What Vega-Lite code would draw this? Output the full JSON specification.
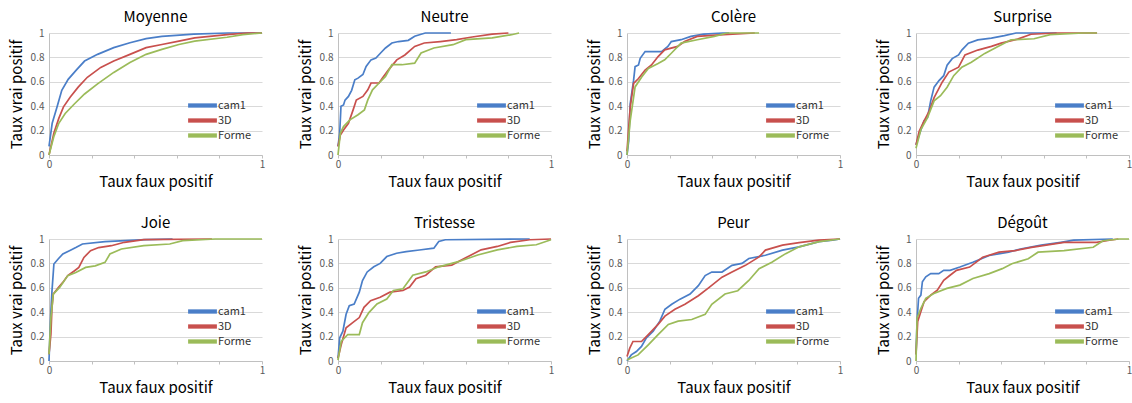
{
"$schema": "https://vega.github.io/schema/vega-lite/v6.json",
"padding": {"left": 9, "top": 10, "right": 0, "bottom": 0},
"background": "white",
"datasets": {
"Moyenne": [
{"model":"cam1","fpr":0,"tpr":0.07},{"model":"cam1","fpr":0.015,"tpr":0.26},{"model":"cam1","fpr":0.038,"tpr":0.395},{"model":"cam1","fpr":0.06,"tpr":0.53},{"model":"cam1","fpr":0.09,"tpr":0.62},{"model":"cam1","fpr":0.13,"tpr":0.7},{"model":"cam1","fpr":0.167,"tpr":0.77},{"model":"cam1","fpr":0.228,"tpr":0.825},{"model":"cam1","fpr":0.304,"tpr":0.88},{"model":"cam1","fpr":0.38,"tpr":0.92},{"model":"cam1","fpr":0.456,"tpr":0.954},{"model":"cam1","fpr":0.53,"tpr":0.973},{"model":"cam1","fpr":0.68,"tpr":0.99},{"model":"cam1","fpr":0.84,"tpr":1},{"model":"cam1","fpr":1,"tpr":1},
{"model":"3D","fpr":0,"tpr":0},{"model":"3D","fpr":0.023,"tpr":0.18},{"model":"3D","fpr":0.046,"tpr":0.3},{"model":"3D","fpr":0.068,"tpr":0.395},{"model":"3D","fpr":0.1,"tpr":0.475},{"model":"3D","fpr":0.137,"tpr":0.556},{"model":"3D","fpr":0.18,"tpr":0.637},{"model":"3D","fpr":0.243,"tpr":0.718},{"model":"3D","fpr":0.304,"tpr":0.77},{"model":"3D","fpr":0.38,"tpr":0.825},{"model":"3D","fpr":0.456,"tpr":0.88},{"model":"3D","fpr":0.53,"tpr":0.906},{"model":"3D","fpr":0.61,"tpr":0.933},{"model":"3D","fpr":0.684,"tpr":0.96},{"model":"3D","fpr":0.836,"tpr":0.987},{"model":"3D","fpr":0.93,"tpr":1},{"model":"3D","fpr":1,"tpr":1},
{"model":"Forme","fpr":0,"tpr":0},{"model":"Forme","fpr":0.023,"tpr":0.153},{"model":"Forme","fpr":0.046,"tpr":0.26},{"model":"Forme","fpr":0.076,"tpr":0.34},{"model":"Forme","fpr":0.12,"tpr":0.42},{"model":"Forme","fpr":0.167,"tpr":0.5},{"model":"Forme","fpr":0.228,"tpr":0.583},{"model":"Forme","fpr":0.304,"tpr":0.677},{"model":"Forme","fpr":0.38,"tpr":0.758},{"model":"Forme","fpr":0.456,"tpr":0.825},{"model":"Forme","fpr":0.53,"tpr":0.866},{"model":"Forme","fpr":0.61,"tpr":0.906},{"model":"Forme","fpr":0.684,"tpr":0.933},{"model":"Forme","fpr":0.836,"tpr":0.965},{"model":"Forme","fpr":0.91,"tpr":0.987},{"model":"Forme","fpr":1,"tpr":1}
],
"Neutre": [
{"model":"cam1","fpr":0,"tpr":0.07},{"model":"cam1","fpr":0.008,"tpr":0.18},{"model":"cam1","fpr":0.014,"tpr":0.4},{"model":"cam1","fpr":0.026,"tpr":0.41},{"model":"cam1","fpr":0.033,"tpr":0.45},{"model":"cam1","fpr":0.049,"tpr":0.48},{"model":"cam1","fpr":0.064,"tpr":0.53},{"model":"cam1","fpr":0.079,"tpr":0.616},{"model":"cam1","fpr":0.094,"tpr":0.63},{"model":"cam1","fpr":0.117,"tpr":0.66},{"model":"cam1","fpr":0.132,"tpr":0.726},{"model":"cam1","fpr":0.155,"tpr":0.78},{"model":"cam1","fpr":0.178,"tpr":0.795},{"model":"cam1","fpr":0.2,"tpr":0.836},{"model":"cam1","fpr":0.223,"tpr":0.877},{"model":"cam1","fpr":0.253,"tpr":0.918},{"model":"cam1","fpr":0.284,"tpr":0.93},{"model":"cam1","fpr":0.33,"tpr":0.94},{"model":"cam1","fpr":0.36,"tpr":0.973},{"model":"cam1","fpr":0.39,"tpr":0.99},{"model":"cam1","fpr":0.41,"tpr":1},{"model":"cam1","fpr":0.53,"tpr":1},
{"model":"3D","fpr":0,"tpr":0.07},{"model":"3D","fpr":0.011,"tpr":0.164},{"model":"3D","fpr":0.026,"tpr":0.205},{"model":"3D","fpr":0.049,"tpr":0.26},{"model":"3D","fpr":0.071,"tpr":0.37},{"model":"3D","fpr":0.086,"tpr":0.45},{"model":"3D","fpr":0.117,"tpr":0.48},{"model":"3D","fpr":0.14,"tpr":0.534},{"model":"3D","fpr":0.155,"tpr":0.59},{"model":"3D","fpr":0.193,"tpr":0.59},{"model":"3D","fpr":0.208,"tpr":0.63},{"model":"3D","fpr":0.238,"tpr":0.7},{"model":"3D","fpr":0.276,"tpr":0.78},{"model":"3D","fpr":0.314,"tpr":0.82},{"model":"3D","fpr":0.36,"tpr":0.89},{"model":"3D","fpr":0.405,"tpr":0.918},{"model":"3D","fpr":0.48,"tpr":0.93},{"model":"3D","fpr":0.557,"tpr":0.945},{"model":"3D","fpr":0.63,"tpr":0.967},{"model":"3D","fpr":0.724,"tpr":0.99},{"model":"3D","fpr":0.8,"tpr":1},
{"model":"Forme","fpr":0,"tpr":0},{"model":"Forme","fpr":0.011,"tpr":0.178},{"model":"Forme","fpr":0.026,"tpr":0.233},{"model":"Forme","fpr":0.056,"tpr":0.288},{"model":"Forme","fpr":0.094,"tpr":0.33},{"model":"Forme","fpr":0.124,"tpr":0.37},{"model":"Forme","fpr":0.14,"tpr":0.452},{"model":"Forme","fpr":0.162,"tpr":0.534},{"model":"Forme","fpr":0.193,"tpr":0.59},{"model":"Forme","fpr":0.223,"tpr":0.644},{"model":"Forme","fpr":0.253,"tpr":0.74},{"model":"Forme","fpr":0.3,"tpr":0.74},{"model":"Forme","fpr":0.36,"tpr":0.753},{"model":"Forme","fpr":0.39,"tpr":0.836},{"model":"Forme","fpr":0.45,"tpr":0.877},{"model":"Forme","fpr":0.54,"tpr":0.904},{"model":"Forme","fpr":0.6,"tpr":0.945},{"model":"Forme","fpr":0.724,"tpr":0.96},{"model":"Forme","fpr":0.815,"tpr":0.986},{"model":"Forme","fpr":0.85,"tpr":1}
],
"Colère": [
{"model":"cam1","fpr":0,"tpr":0},{"model":"cam1","fpr":0.008,"tpr":0.116},{"model":"cam1","fpr":0.015,"tpr":0.42},{"model":"cam1","fpr":0.031,"tpr":0.613},{"model":"cam1","fpr":0.038,"tpr":0.724},{"model":"cam1","fpr":0.054,"tpr":0.738},{"model":"cam1","fpr":0.062,"tpr":0.793},{"model":"cam1","fpr":0.085,"tpr":0.848},{"model":"cam1","fpr":0.162,"tpr":0.848},{"model":"cam1","fpr":0.192,"tpr":0.89},{"model":"cam1","fpr":0.208,"tpr":0.93},{"model":"cam1","fpr":0.254,"tpr":0.945},{"model":"cam1","fpr":0.3,"tpr":0.972},{"model":"cam1","fpr":0.36,"tpr":0.99},{"model":"cam1","fpr":0.45,"tpr":1},{"model":"cam1","fpr":0.48,"tpr":1},
{"model":"3D","fpr":0,"tpr":0.03},{"model":"3D","fpr":0.015,"tpr":0.39},{"model":"3D","fpr":0.031,"tpr":0.586},{"model":"3D","fpr":0.054,"tpr":0.627},{"model":"3D","fpr":0.085,"tpr":0.696},{"model":"3D","fpr":0.115,"tpr":0.738},{"model":"3D","fpr":0.146,"tpr":0.807},{"model":"3D","fpr":0.177,"tpr":0.862},{"model":"3D","fpr":0.238,"tpr":0.89},{"model":"3D","fpr":0.27,"tpr":0.93},{"model":"3D","fpr":0.33,"tpr":0.972},{"model":"3D","fpr":0.454,"tpr":0.986},{"model":"3D","fpr":0.6,"tpr":1},
{"model":"Forme","fpr":0,"tpr":0},{"model":"Forme","fpr":0.015,"tpr":0.28},{"model":"Forme","fpr":0.038,"tpr":0.558},{"model":"Forme","fpr":0.069,"tpr":0.64},{"model":"Forme","fpr":0.1,"tpr":0.71},{"model":"Forme","fpr":0.146,"tpr":0.75},{"model":"Forme","fpr":0.177,"tpr":0.78},{"model":"Forme","fpr":0.208,"tpr":0.834},{"model":"Forme","fpr":0.254,"tpr":0.917},{"model":"Forme","fpr":0.33,"tpr":0.945},{"model":"Forme","fpr":0.41,"tpr":0.972},{"model":"Forme","fpr":0.47,"tpr":1},{"model":"Forme","fpr":0.62,"tpr":1}
],
"Surprise": [
{"model":"cam1","fpr":0,"tpr":0.083},{"model":"cam1","fpr":0.015,"tpr":0.167},{"model":"cam1","fpr":0.038,"tpr":0.28},{"model":"cam1","fpr":0.054,"tpr":0.306},{"model":"cam1","fpr":0.069,"tpr":0.444},{"model":"cam1","fpr":0.085,"tpr":0.556},{"model":"cam1","fpr":0.108,"tpr":0.61},{"model":"cam1","fpr":0.13,"tpr":0.65},{"model":"cam1","fpr":0.146,"tpr":0.736},{"model":"cam1","fpr":0.17,"tpr":0.79},{"model":"cam1","fpr":0.2,"tpr":0.82},{"model":"cam1","fpr":0.215,"tpr":0.86},{"model":"cam1","fpr":0.246,"tpr":0.917},{"model":"cam1","fpr":0.29,"tpr":0.944},{"model":"cam1","fpr":0.354,"tpr":0.958},{"model":"cam1","fpr":0.415,"tpr":0.978},{"model":"cam1","fpr":0.47,"tpr":1},{"model":"cam1","fpr":0.66,"tpr":1},
{"model":"3D","fpr":0,"tpr":0.083},{"model":"3D","fpr":0.015,"tpr":0.194},{"model":"3D","fpr":0.038,"tpr":0.28},{"model":"3D","fpr":0.062,"tpr":0.36},{"model":"3D","fpr":0.085,"tpr":0.47},{"model":"3D","fpr":0.123,"tpr":0.597},{"model":"3D","fpr":0.154,"tpr":0.68},{"model":"3D","fpr":0.2,"tpr":0.72},{"model":"3D","fpr":0.23,"tpr":0.82},{"model":"3D","fpr":0.29,"tpr":0.86},{"model":"3D","fpr":0.354,"tpr":0.89},{"model":"3D","fpr":0.4,"tpr":0.917},{"model":"3D","fpr":0.477,"tpr":0.95},{"model":"3D","fpr":0.54,"tpr":0.99},{"model":"3D","fpr":0.66,"tpr":1},{"model":"3D","fpr":0.85,"tpr":1},
{"model":"Forme","fpr":0,"tpr":0.056},{"model":"Forme","fpr":0.023,"tpr":0.208},{"model":"Forme","fpr":0.054,"tpr":0.306},{"model":"Forme","fpr":0.085,"tpr":0.444},{"model":"Forme","fpr":0.115,"tpr":0.486},{"model":"Forme","fpr":0.146,"tpr":0.556},{"model":"Forme","fpr":0.177,"tpr":0.65},{"model":"Forme","fpr":0.215,"tpr":0.72},{"model":"Forme","fpr":0.26,"tpr":0.76},{"model":"Forme","fpr":0.323,"tpr":0.833},{"model":"Forme","fpr":0.385,"tpr":0.89},{"model":"Forme","fpr":0.446,"tpr":0.944},{"model":"Forme","fpr":0.554,"tpr":0.953},{"model":"Forme","fpr":0.63,"tpr":0.986},{"model":"Forme","fpr":0.785,"tpr":1},{"model":"Forme","fpr":0.85,"tpr":1}
],
"Joie": [
{"model":"cam1","fpr":0,"tpr":0},{"model":"cam1","fpr":0.005,"tpr":0.247},{"model":"cam1","fpr":0.009,"tpr":0.41},{"model":"cam1","fpr":0.014,"tpr":0.575},{"model":"cam1","fpr":0.023,"tpr":0.795},{"model":"cam1","fpr":0.043,"tpr":0.836},{"model":"cam1","fpr":0.065,"tpr":0.877},{"model":"cam1","fpr":0.096,"tpr":0.904},{"model":"cam1","fpr":0.126,"tpr":0.93},{"model":"cam1","fpr":0.157,"tpr":0.959},{"model":"cam1","fpr":0.263,"tpr":0.978},{"model":"cam1","fpr":0.453,"tpr":0.995},{"model":"cam1","fpr":0.58,"tpr":1},
{"model":"3D","fpr":0,"tpr":0.055},{"model":"3D","fpr":0.009,"tpr":0.22},{"model":"3D","fpr":0.014,"tpr":0.438},{"model":"3D","fpr":0.02,"tpr":0.548},{"model":"3D","fpr":0.043,"tpr":0.6},{"model":"3D","fpr":0.065,"tpr":0.644},{"model":"3D","fpr":0.088,"tpr":0.7},{"model":"3D","fpr":0.12,"tpr":0.74},{"model":"3D","fpr":0.14,"tpr":0.767},{"model":"3D","fpr":0.164,"tpr":0.849},{"model":"3D","fpr":0.195,"tpr":0.904},{"model":"3D","fpr":0.233,"tpr":0.93},{"model":"3D","fpr":0.293,"tpr":0.945},{"model":"3D","fpr":0.354,"tpr":0.973},{"model":"3D","fpr":0.445,"tpr":0.995},{"model":"3D","fpr":0.765,"tpr":1},
{"model":"Forme","fpr":0,"tpr":0.055},{"model":"Forme","fpr":0.009,"tpr":0.356},{"model":"Forme","fpr":0.02,"tpr":0.548},{"model":"Forme","fpr":0.05,"tpr":0.603},{"model":"Forme","fpr":0.088,"tpr":0.7},{"model":"Forme","fpr":0.126,"tpr":0.726},{"model":"Forme","fpr":0.172,"tpr":0.767},{"model":"Forme","fpr":0.217,"tpr":0.78},{"model":"Forme","fpr":0.263,"tpr":0.808},{"model":"Forme","fpr":0.286,"tpr":0.877},{"model":"Forme","fpr":0.34,"tpr":0.918},{"model":"Forme","fpr":0.445,"tpr":0.945},{"model":"Forme","fpr":0.567,"tpr":0.959},{"model":"Forme","fpr":0.628,"tpr":0.986},{"model":"Forme","fpr":0.78,"tpr":1},{"model":"Forme","fpr":1,"tpr":1}
],
"Tristesse": [
{"model":"cam1","fpr":0,"tpr":0.022},{"model":"cam1","fpr":0.008,"tpr":0.19},{"model":"cam1","fpr":0.023,"tpr":0.244},{"model":"cam1","fpr":0.038,"tpr":0.383},{"model":"cam1","fpr":0.053,"tpr":0.453},{"model":"cam1","fpr":0.076,"tpr":0.467},{"model":"cam1","fpr":0.1,"tpr":0.564},{"model":"cam1","fpr":0.115,"tpr":0.66},{"model":"cam1","fpr":0.137,"tpr":0.73},{"model":"cam1","fpr":0.168,"tpr":0.772},{"model":"cam1","fpr":0.198,"tpr":0.8},{"model":"cam1","fpr":0.229,"tpr":0.856},{"model":"cam1","fpr":0.275,"tpr":0.883},{"model":"cam1","fpr":0.32,"tpr":0.897},{"model":"cam1","fpr":0.382,"tpr":0.91},{"model":"cam1","fpr":0.45,"tpr":0.925},{"model":"cam1","fpr":0.473,"tpr":0.98},{"model":"cam1","fpr":0.504,"tpr":0.994},{"model":"cam1","fpr":0.9,"tpr":1},
{"model":"3D","fpr":0,"tpr":0.022},{"model":"3D","fpr":0.015,"tpr":0.133},{"model":"3D","fpr":0.038,"tpr":0.272},{"model":"3D","fpr":0.069,"tpr":0.314},{"model":"3D","fpr":0.1,"tpr":0.356},{"model":"3D","fpr":0.122,"tpr":0.44},{"model":"3D","fpr":0.153,"tpr":0.494},{"model":"3D","fpr":0.198,"tpr":0.522},{"model":"3D","fpr":0.244,"tpr":0.564},{"model":"3D","fpr":0.305,"tpr":0.578},{"model":"3D","fpr":0.336,"tpr":0.606},{"model":"3D","fpr":0.366,"tpr":0.675},{"model":"3D","fpr":0.412,"tpr":0.703},{"model":"3D","fpr":0.458,"tpr":0.772},{"model":"3D","fpr":0.534,"tpr":0.786},{"model":"3D","fpr":0.595,"tpr":0.842},{"model":"3D","fpr":0.672,"tpr":0.911},{"model":"3D","fpr":0.748,"tpr":0.939},{"model":"3D","fpr":0.81,"tpr":0.972},{"model":"3D","fpr":0.9,"tpr":0.994},{"model":"3D","fpr":1,"tpr":1},
{"model":"Forme","fpr":0,"tpr":0.008},{"model":"Forme","fpr":0.015,"tpr":0.16},{"model":"Forme","fpr":0.046,"tpr":0.217},{"model":"Forme","fpr":0.1,"tpr":0.217},{"model":"Forme","fpr":0.115,"tpr":0.314},{"model":"Forme","fpr":0.145,"tpr":0.397},{"model":"Forme","fpr":0.183,"tpr":0.467},{"model":"Forme","fpr":0.229,"tpr":0.508},{"model":"Forme","fpr":0.26,"tpr":0.578},{"model":"Forme","fpr":0.305,"tpr":0.592},{"model":"Forme","fpr":0.351,"tpr":0.703},{"model":"Forme","fpr":0.412,"tpr":0.73},{"model":"Forme","fpr":0.473,"tpr":0.772},{"model":"Forme","fpr":0.565,"tpr":0.814},{"model":"Forme","fpr":0.656,"tpr":0.869},{"model":"Forme","fpr":0.748,"tpr":0.911},{"model":"Forme","fpr":0.84,"tpr":0.939},{"model":"Forme","fpr":0.931,"tpr":0.953},{"model":"Forme","fpr":1,"tpr":0.994}
],
"Peur": [
{"model":"cam1","fpr":0,"tpr":0},{"model":"cam1","fpr":0.02,"tpr":0.05},{"model":"cam1","fpr":0.044,"tpr":0.078},{"model":"cam1","fpr":0.068,"tpr":0.12},{"model":"cam1","fpr":0.091,"tpr":0.19},{"model":"cam1","fpr":0.123,"tpr":0.244},{"model":"cam1","fpr":0.154,"tpr":0.327},{"model":"cam1","fpr":0.178,"tpr":0.424},{"model":"cam1","fpr":0.21,"tpr":0.465},{"model":"cam1","fpr":0.249,"tpr":0.507},{"model":"cam1","fpr":0.296,"tpr":0.549},{"model":"cam1","fpr":0.335,"tpr":0.618},{"model":"cam1","fpr":0.367,"tpr":0.7},{"model":"cam1","fpr":0.398,"tpr":0.729},{"model":"cam1","fpr":0.446,"tpr":0.729},{"model":"cam1","fpr":0.493,"tpr":0.784},{"model":"cam1","fpr":0.54,"tpr":0.8},{"model":"cam1","fpr":0.572,"tpr":0.84},{"model":"cam1","fpr":0.65,"tpr":0.867},{"model":"cam1","fpr":0.73,"tpr":0.909},{"model":"cam1","fpr":0.808,"tpr":0.936},{"model":"cam1","fpr":0.902,"tpr":0.978},{"model":"cam1","fpr":0.965,"tpr":0.99},{"model":"cam1","fpr":1,"tpr":1},
{"model":"3D","fpr":0,"tpr":0.036},{"model":"3D","fpr":0.013,"tpr":0.105},{"model":"3D","fpr":0.028,"tpr":0.16},{"model":"3D","fpr":0.068,"tpr":0.16},{"model":"3D","fpr":0.1,"tpr":0.216},{"model":"3D","fpr":0.146,"tpr":0.3},{"model":"3D","fpr":0.178,"tpr":0.368},{"model":"3D","fpr":0.225,"tpr":0.424},{"model":"3D","fpr":0.272,"tpr":0.465},{"model":"3D","fpr":0.335,"tpr":0.535},{"model":"3D","fpr":0.383,"tpr":0.6},{"model":"3D","fpr":0.446,"tpr":0.687},{"model":"3D","fpr":0.493,"tpr":0.729},{"model":"3D","fpr":0.556,"tpr":0.784},{"model":"3D","fpr":0.62,"tpr":0.853},{"model":"3D","fpr":0.65,"tpr":0.909},{"model":"3D","fpr":0.73,"tpr":0.95},{"model":"3D","fpr":0.808,"tpr":0.97},{"model":"3D","fpr":0.9,"tpr":0.99},{"model":"3D","fpr":1,"tpr":1},
{"model":"Forme","fpr":0,"tpr":0.008},{"model":"Forme","fpr":0.052,"tpr":0.05},{"model":"Forme","fpr":0.1,"tpr":0.133},{"model":"Forme","fpr":0.146,"tpr":0.216},{"model":"Forme","fpr":0.194,"tpr":0.3},{"model":"Forme","fpr":0.24,"tpr":0.327},{"model":"Forme","fpr":0.304,"tpr":0.34},{"model":"Forme","fpr":0.367,"tpr":0.382},{"model":"Forme","fpr":0.398,"tpr":0.465},{"model":"Forme","fpr":0.46,"tpr":0.549},{"model":"Forme","fpr":0.52,"tpr":0.576},{"model":"Forme","fpr":0.572,"tpr":0.66},{"model":"Forme","fpr":0.62,"tpr":0.756},{"model":"Forme","fpr":0.68,"tpr":0.81},{"model":"Forme","fpr":0.745,"tpr":0.88},{"model":"Forme","fpr":0.808,"tpr":0.936},{"model":"Forme","fpr":0.902,"tpr":0.978},{"model":"Forme","fpr":1,"tpr":1}
],
"Dégoût": [
{"model":"cam1","fpr":0,"tpr":0.054},{"model":"cam1","fpr":0.005,"tpr":0.324},{"model":"cam1","fpr":0.012,"tpr":0.514},{"model":"cam1","fpr":0.023,"tpr":0.54},{"model":"cam1","fpr":0.03,"tpr":0.65},{"model":"cam1","fpr":0.046,"tpr":0.69},{"model":"cam1","fpr":0.069,"tpr":0.716},{"model":"cam1","fpr":0.107,"tpr":0.716},{"model":"cam1","fpr":0.13,"tpr":0.743},{"model":"cam1","fpr":0.16,"tpr":0.743},{"model":"cam1","fpr":0.206,"tpr":0.77},{"model":"cam1","fpr":0.267,"tpr":0.81},{"model":"cam1","fpr":0.344,"tpr":0.865},{"model":"cam1","fpr":0.435,"tpr":0.892},{"model":"cam1","fpr":0.496,"tpr":0.92},{"model":"cam1","fpr":0.588,"tpr":0.95},{"model":"cam1","fpr":0.68,"tpr":0.973},{"model":"cam1","fpr":0.74,"tpr":0.99},{"model":"cam1","fpr":0.924,"tpr":1},
{"model":"3D","fpr":0,"tpr":0.054},{"model":"3D","fpr":0.008,"tpr":0.324},{"model":"3D","fpr":0.023,"tpr":0.405},{"model":"3D","fpr":0.038,"tpr":0.486},{"model":"3D","fpr":0.069,"tpr":0.54},{"model":"3D","fpr":0.1,"tpr":0.58},{"model":"3D","fpr":0.13,"tpr":0.662},{"model":"3D","fpr":0.16,"tpr":0.703},{"model":"3D","fpr":0.19,"tpr":0.743},{"model":"3D","fpr":0.252,"tpr":0.77},{"model":"3D","fpr":0.313,"tpr":0.85},{"model":"3D","fpr":0.39,"tpr":0.892},{"model":"3D","fpr":0.466,"tpr":0.905},{"model":"3D","fpr":0.542,"tpr":0.932},{"model":"3D","fpr":0.695,"tpr":0.973},{"model":"3D","fpr":0.847,"tpr":0.973},{"model":"3D","fpr":0.908,"tpr":0.99},{"model":"3D","fpr":0.95,"tpr":1},
{"model":"Forme","fpr":0,"tpr":0},{"model":"Forme","fpr":0.005,"tpr":0.351},{"model":"Forme","fpr":0.023,"tpr":0.432},{"model":"Forme","fpr":0.046,"tpr":0.514},{"model":"Forme","fpr":0.084,"tpr":0.554},{"model":"Forme","fpr":0.145,"tpr":0.595},{"model":"Forme","fpr":0.206,"tpr":0.622},{"model":"Forme","fpr":0.267,"tpr":0.676},{"model":"Forme","fpr":0.344,"tpr":0.716},{"model":"Forme","fpr":0.405,"tpr":0.757},{"model":"Forme","fpr":0.45,"tpr":0.797},{"model":"Forme","fpr":0.527,"tpr":0.838},{"model":"Forme","fpr":0.573,"tpr":0.892},{"model":"Forme","fpr":0.695,"tpr":0.905},{"model":"Forme","fpr":0.832,"tpr":0.932},{"model":"Forme","fpr":0.878,"tpr":0.986},{"model":"Forme","fpr":0.954,"tpr":1},{"model":"Forme","fpr":1,"tpr":1}
]
},
"columns": 4,
"spacing": {"row": 27, "column": 32},
"resolve": {"scale": {"color": "independent"}, "legend": {"color": "independent"}},
"concat": [
{"title": "Moyenne", "data": {"name": "Moyenne"}, "width": 213, "height": 122, "mark": {"type": "line", "strokeWidth": 1.7},
 "encoding": {"x": {"field": "fpr", "type": "quantitative", "title": "Taux faux positif", "scale": {"domain": [0, 1]}}, "y": {"field": "tpr", "type": "quantitative", "title": "Taux vrai positif", "scale": {"domain": [0, 1]}}, "color": {"field": "model", "type": "nominal", "scale": {"domain": ["cam1", "3D", "Forme"], "range": ["#4a7ec8", "#c8504d", "#9bbb59"]}}, "order": [{"field": "fpr", "type": "quantitative"}, {"field": "tpr", "type": "quantitative"}]}},
{"title": "Neutre", "data": {"name": "Neutre"}, "width": 213, "height": 122, "mark": {"type": "line", "strokeWidth": 1.7},
 "encoding": {"x": {"field": "fpr", "type": "quantitative", "title": "Taux faux positif", "scale": {"domain": [0, 1]}}, "y": {"field": "tpr", "type": "quantitative", "title": "Taux vrai positif", "scale": {"domain": [0, 1]}}, "color": {"field": "model", "type": "nominal", "scale": {"domain": ["cam1", "3D", "Forme"], "range": ["#4a7ec8", "#c8504d", "#9bbb59"]}}, "order": [{"field": "fpr", "type": "quantitative"}, {"field": "tpr", "type": "quantitative"}]}},
{"title": "Colère", "data": {"name": "Colère"}, "width": 213, "height": 122, "mark": {"type": "line", "strokeWidth": 1.7},
 "encoding": {"x": {"field": "fpr", "type": "quantitative", "title": "Taux faux positif", "scale": {"domain": [0, 1]}}, "y": {"field": "tpr", "type": "quantitative", "title": "Taux vrai positif", "scale": {"domain": [0, 1]}}, "color": {"field": "model", "type": "nominal", "scale": {"domain": ["cam1", "3D", "Forme"], "range": ["#4a7ec8", "#c8504d", "#9bbb59"]}}, "order": [{"field": "fpr", "type": "quantitative"}, {"field": "tpr", "type": "quantitative"}]}},
{"title": "Surprise", "data": {"name": "Surprise"}, "width": 213, "height": 122, "mark": {"type": "line", "strokeWidth": 1.7},
 "encoding": {"x": {"field": "fpr", "type": "quantitative", "title": "Taux faux positif", "scale": {"domain": [0, 1]}}, "y": {"field": "tpr", "type": "quantitative", "title": "Taux vrai positif", "scale": {"domain": [0, 1]}}, "color": {"field": "model", "type": "nominal", "scale": {"domain": ["cam1", "3D", "Forme"], "range": ["#4a7ec8", "#c8504d", "#9bbb59"]}}, "order": [{"field": "fpr", "type": "quantitative"}, {"field": "tpr", "type": "quantitative"}]}},
{"title": "Joie", "data": {"name": "Joie"}, "width": 213, "height": 122, "mark": {"type": "line", "strokeWidth": 1.7},
 "encoding": {"x": {"field": "fpr", "type": "quantitative", "title": "Taux faux positif", "scale": {"domain": [0, 1]}}, "y": {"field": "tpr", "type": "quantitative", "title": "Taux vrai positif", "scale": {"domain": [0, 1]}}, "color": {"field": "model", "type": "nominal", "scale": {"domain": ["cam1", "3D", "Forme"], "range": ["#4a7ec8", "#c8504d", "#9bbb59"]}}, "order": [{"field": "fpr", "type": "quantitative"}, {"field": "tpr", "type": "quantitative"}]}},
{"title": "Tristesse", "data": {"name": "Tristesse"}, "width": 213, "height": 122, "mark": {"type": "line", "strokeWidth": 1.7},
 "encoding": {"x": {"field": "fpr", "type": "quantitative", "title": "Taux faux positif", "scale": {"domain": [0, 1]}}, "y": {"field": "tpr", "type": "quantitative", "title": "Taux vrai positif", "scale": {"domain": [0, 1]}}, "color": {"field": "model", "type": "nominal", "scale": {"domain": ["cam1", "3D", "Forme"], "range": ["#4a7ec8", "#c8504d", "#9bbb59"]}}, "order": [{"field": "fpr", "type": "quantitative"}, {"field": "tpr", "type": "quantitative"}]}},
{"title": "Peur", "data": {"name": "Peur"}, "width": 213, "height": 122, "mark": {"type": "line", "strokeWidth": 1.7},
 "encoding": {"x": {"field": "fpr", "type": "quantitative", "title": "Taux faux positif", "scale": {"domain": [0, 1]}}, "y": {"field": "tpr", "type": "quantitative", "title": "Taux vrai positif", "scale": {"domain": [0, 1]}}, "color": {"field": "model", "type": "nominal", "scale": {"domain": ["cam1", "3D", "Forme"], "range": ["#4a7ec8", "#c8504d", "#9bbb59"]}}, "order": [{"field": "fpr", "type": "quantitative"}, {"field": "tpr", "type": "quantitative"}]}},
{"title": "Dégoût", "data": {"name": "Dégoût"}, "width": 213, "height": 122, "mark": {"type": "line", "strokeWidth": 1.7},
 "encoding": {"x": {"field": "fpr", "type": "quantitative", "title": "Taux faux positif", "scale": {"domain": [0, 1]}}, "y": {"field": "tpr", "type": "quantitative", "title": "Taux vrai positif", "scale": {"domain": [0, 1]}}, "color": {"field": "model", "type": "nominal", "scale": {"domain": ["cam1", "3D", "Forme"], "range": ["#4a7ec8", "#c8504d", "#9bbb59"]}}, "order": [{"field": "fpr", "type": "quantitative"}, {"field": "tpr", "type": "quantitative"}]}}
],
"config": {
 "font": "Noto Sans CJK JP",
 "view": {"stroke": null},
 "title": {"fontSize": 15, "fontWeight": "normal", "color": "#000000", "offset": 3},
 "axis": {"titleFontWeight": "normal", "titleFontSize": 15, "titleColor": "#000000", "labelFontSize": 10, "labelColor": "#595959", "labelFlush": false, "labelOverlap": false, "domainColor": "#c0c0c0", "format": "~g"},
 "axisX": {"values": [0, 0.1, 0.2, 0.3, 0.4, 0.5, 0.6, 0.7, 0.8, 0.9, 1], "labelExpr": "datum.value == 0 || datum.value == 0.5 || datum.value == 1 ? datum.label : ''", "grid": false, "tickSize": 3, "tickColor": "#c0c0c0", "labelPadding": 1, "titlePadding": 5},
 "axisY": {"values": [0, 0.5, 1], "grid": true, "gridColor": "#d9d9d9", "ticks": false, "labelPadding": 5, "titlePadding": 6},
 "legend": {"orient": "bottom-right", "title": null, "offset": 10, "labelFontSize": 11, "labelColor": "#333333", "symbolType": "M-4.8,0H4.8", "symbolSize": 36, "symbolStrokeWidth": 4.3, "labelOffset": 10, "rowPadding": -5.4, "padding": 0}
}
}
